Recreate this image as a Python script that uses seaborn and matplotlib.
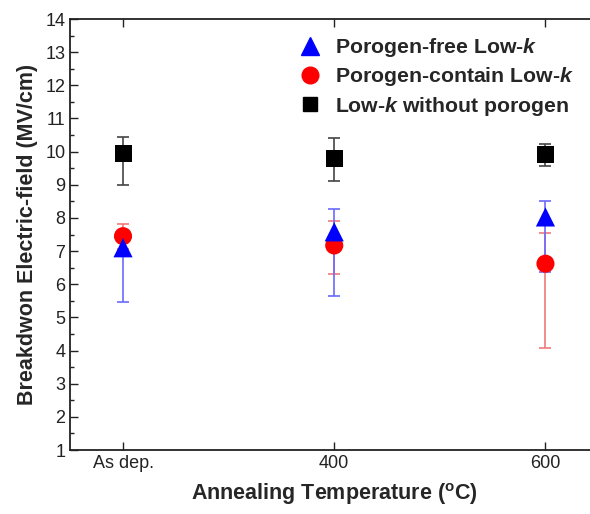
import numpy as np
import pandas as pd
import seaborn as sns
import matplotlib.pyplot as plt
from matplotlib.lines import Line2D
from matplotlib.ticker import MultipleLocator

categories = ["As dep.", "400", "600"]
series = ["Porogen-free Low-$k$", "Porogen-contain Low-$k$", "Low-$k$ without porogen"]

free_val = [7.1, 7.58, 8.03]
free_lo = [5.47, 5.65, 6.37]
free_hi = [7.5, 8.27, 8.5]

contain_val = [7.45, 7.17, 6.62]
contain_lo = [7.05, 6.3, 4.08]
contain_hi = [7.82, 7.9, 7.55]

without_val = [9.95, 9.8, 9.9]
without_lo = [9.0, 9.1, 9.57]
without_hi = [10.45, 10.4, 10.23]

sns.set_theme(style="white")
plt.rcParams["font.family"] = ["Liberation Sans", "DejaVu Sans"]
plt.rcParams["mathtext.fontset"] = "custom"
plt.rcParams["mathtext.it"] = "Liberation Sans:bold:italic"
plt.rcParams["mathtext.rm"] = "Liberation Sans:bold"
plt.rcParams["mathtext.bf"] = "Liberation Sans:bold"

pos = np.arange(len(categories))
df = pd.concat([
    pd.DataFrame({"pos": pos, "val": without_val, "lo": without_lo, "hi": without_hi, "series": series[2]}),
    pd.DataFrame({"pos": pos, "val": contain_val, "lo": contain_lo, "hi": contain_hi, "series": series[1]}),
    pd.DataFrame({"pos": pos, "val": free_val, "lo": free_lo, "hi": free_hi, "series": series[0]}),
])

colors = {series[0]: "#0000ff", series[1]: "#ff0000", series[2]: "#000000"}
bar_colors = {series[0]: "#6a6aff", series[1]: "#f07a7a", series[2]: "#444444"}
markers = {series[0]: "^", series[1]: "o", series[2]: "s"}
sizes = {series[0]: 190, series[1]: 170, series[2]: 150}

fig = plt.figure(figsize=(5.9, 5.14), dpi=100)
ax = fig.add_axes([0.119, 0.1245, 0.895, 0.8385])

for name, sub in df.groupby("series", sort=False):
    ax.errorbar(sub["pos"], sub["val"],
                yerr=[sub["val"] - sub["lo"], sub["hi"] - sub["val"]],
                fmt="none", ecolor=bar_colors[name], elinewidth=1.2,
                capsize=4, capthick=1.2, zorder=2)
    sns.scatterplot(data=sub, x="pos", y="val", marker=markers[name],
                    color=colors[name], s=sizes[name], edgecolor="none",
                    ax=ax, zorder=3, legend=False)

ax.set_xlim(-0.25, 2.25)
ax.set_ylim(1, 14)
ax.set_xticks(pos)
ax.set_xticklabels(categories)
ax.yaxis.set_major_locator(MultipleLocator(1))
ax.yaxis.set_minor_locator(MultipleLocator(0.5))
ax.tick_params(which="both", direction="in", top=True, left=True, bottom=True,
               labelsize=13, colors="#222222")
ax.tick_params(which="major", length=6, width=1)
ax.tick_params(which="minor", length=3, width=1)
for s in ax.spines.values():
    s.set_color("#222222")
    s.set_linewidth(1.3)

ax.set_xlabel("Annealing Temperature ($^{\\mathrm{o}}$C)", fontsize=15.5,
              fontweight="bold", labelpad=7)
ax.set_ylabel("Breakdwon Electric-field (MV/cm)", fontsize=15.5,
              fontweight="bold", labelpad=5)

handles = [Line2D([], [], linestyle="none", marker=markers[n], color=colors[n],
                  markersize={series[0]: 13, series[1]: 12, series[2]: 10}[n])
           for n in series]
leg = ax.legend(handles, series, loc="upper left", bbox_to_anchor=(0.385, 1.005),
                frameon=False, prop={"weight": "bold", "size": 15.3},
                handletextpad=0.4, labelspacing=0.3, handlelength=1.6)

fig.savefig("out.png", dpi=100)
